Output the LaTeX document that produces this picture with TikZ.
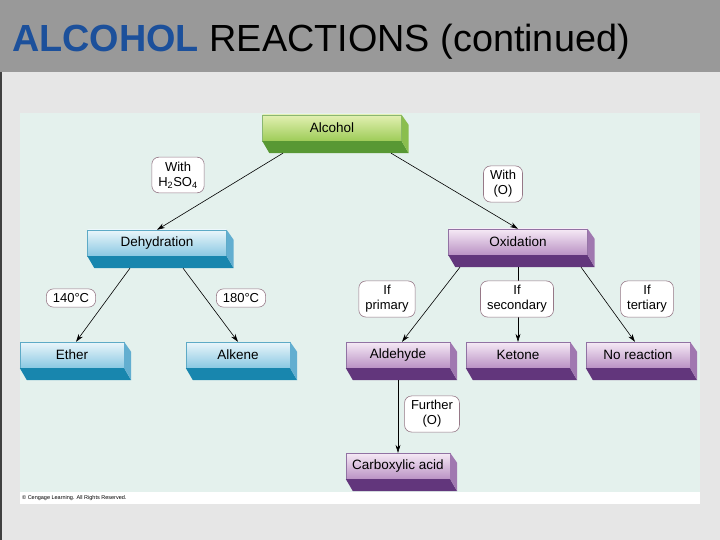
\documentclass[tikz,border=0pt]{standalone}
\usepackage{fontspec}
\setmainfont{Liberation Sans}
\usetikzlibrary{arrows.meta}

\definecolor{bandgray}{RGB}{153,153,153}
\definecolor{pagegray}{RGB}{230,230,230}
\definecolor{panelmint}{RGB}{228,241,237}
\definecolor{titleblue}{RGB}{28,80,155}
\definecolor{tagedge}{RGB}{150,120,135}
% green
\definecolor{grtop}{RGB}{226,240,178}
\definecolor{grbot}{RGB}{158,204,88}
\definecolor{grside}{RGB}{138,190,78}
\definecolor{grdark}{RGB}{88,152,52}
% blue
\definecolor{bltop}{RGB}{234,246,251}
\definecolor{blbot}{RGB}{138,200,226}
\definecolor{blside}{RGB}{98,174,208}
\definecolor{bldark}{RGB}{24,134,174}
% purple
\definecolor{pptop}{RGB}{246,234,246}
\definecolor{ppbot}{RGB}{186,146,196}
\definecolor{ppside}{RGB}{160,120,176}
\definecolor{ppdark}{RGB}{98,54,124}

% side and bottom faces of a box
\newcommand{\slabfaces}[3]{%
  \fill[#3] (#1.south west) -- (#1.south east) -- ([shift={(7,12)}]#1.south east)
    -- ([shift={(7,12)}]#1.south west) -- cycle;
  \fill[#2] (#1.north east) -- ([shift={(7,10)}]#1.north east)
    -- ([shift={(7,12)}]#1.south east) -- (#1.south east) -- cycle;}

\tikzset{
  slab/.style={inner sep=0pt, minimum height=26pt, line width=0.3pt,
    font=\fontsize{13.5}{15}\selectfont},
  wide/.style={slab, minimum width=139pt},
  small/.style={slab, minimum width=104pt},
  greenbox/.style={top color=grtop, bottom color=grbot, draw=grdark!70},
  bluebox/.style={top color=bltop, bottom color=blbot, draw=bldark!70},
  purplebox/.style={top color=pptop, bottom color=ppbot, draw=ppdark!70},
  tag/.style={draw=tagedge, fill=white, rounded corners=7pt, align=center,
    inner xsep=6.5pt, inner ysep=4.5pt, line width=0.6pt,
    font=\fontsize{13}{15}\selectfont},
  link/.style={->, line width=0.6pt}
}

\begin{document}
\begin{tikzpicture}[x=1pt, y=-1pt, >={Stealth[length=8pt,width=5pt]}]
\useasboundingbox (0,0) rectangle (720,540);

% slide background
\fill[pagegray] (0,72) rectangle (720,540);
\fill[bandgray] (0,0) rectangle (720,72);
\draw[line width=1.5pt, black!75] (1,72) -- (1,540);
\fill[white] (20,113) rectangle (700,504);
\fill[panelmint] (20,113) rectangle (700,492);

% title
\node[anchor=base west, inner sep=0pt, font=\fontsize{37.8}{40}\selectfont] (title) at (12,52)
  {\textcolor{titleblue}{\textbf{ALCOHOL}} REACTIONS (continued)};

% boxes
\node[wide, greenbox] (alc) at (332,128) {Alcohol};
\slabfaces{alc}{grside}{grdark}

\node[wide, bluebox] (deh) at (157,243) {Dehydration};
\slabfaces{deh}{blside}{bldark}
\node[wide, purplebox] (oxi) at (518,242) {Oxidation};
\slabfaces{oxi}{ppside}{ppdark}

\node[small, bluebox] (eth) at (72,355) {Ether};
\slabfaces{eth}{blside}{bldark}
\node[small, bluebox] (alk) at (238,355) {Alkene};
\slabfaces{alk}{blside}{bldark}
\node[small, purplebox] (ald) at (398,355) {Aldehyde};
\slabfaces{ald}{ppside}{ppdark}
\node[small, purplebox] (ket) at (518,355) {Ketone};
\slabfaces{ket}{ppside}{ppdark}
\node[small, purplebox] (nor) at (638,355) {No reaction};
\slabfaces{nor}{ppside}{ppdark}

\node[small, purplebox] (car) at (398,466) {Carboxylic acid};
\slabfaces{car}{ppside}{ppdark}

% arrows
\draw[link] ([shift={(-49,12)}]alc.south) -- (deh.north);
\draw[link] ([shift={(59,12)}]alc.south) -- (oxi.north);

\draw[link] ([shift={(-27,12)}]deh.south) -- ([shift={(4,0)}]eth.north);
\draw[link] ([shift={(26,12)}]deh.south) -- (alk.north);

\draw[link] ([shift={(-58,12)}]oxi.south) -- ([shift={(4,0)}]ald.north);
\draw[link] ([shift={(0,12)}]oxi.south) -- (ket.north);
\draw[link] ([shift={(63,12)}]oxi.south) -- ([shift={(-3,0)}]nor.north);

\draw[link] ([shift={(0,12)}]ald.south) -- (car.north);

% conditions
\node[tag] (acid) at (178,175) {With\\H\textsubscript{2}SO\textsubscript{4}};
\node[tag] (with) at (503,184) {With\\(O)};
\node[tag] (t140) at (71,298) {140°C};
\node[tag] (t180) at (241,298) {180°C};
\node[tag] (prim) at (387,299) {If\\primary};
\node[tag] (sec) at (517,299) {If\\secondary};
\node[tag] (tert) at (647,299) {If\\tertiary};
\node[tag] (fur) at (432,414) {Further\\(O)};

% credit line
\node[anchor=west, inner sep=0pt, font=\fontsize{5.5}{6}\selectfont] (credit) at (22,498)
  {© Cengage Learning. All Rights Reserved.};

\end{tikzpicture}
\end{document}
